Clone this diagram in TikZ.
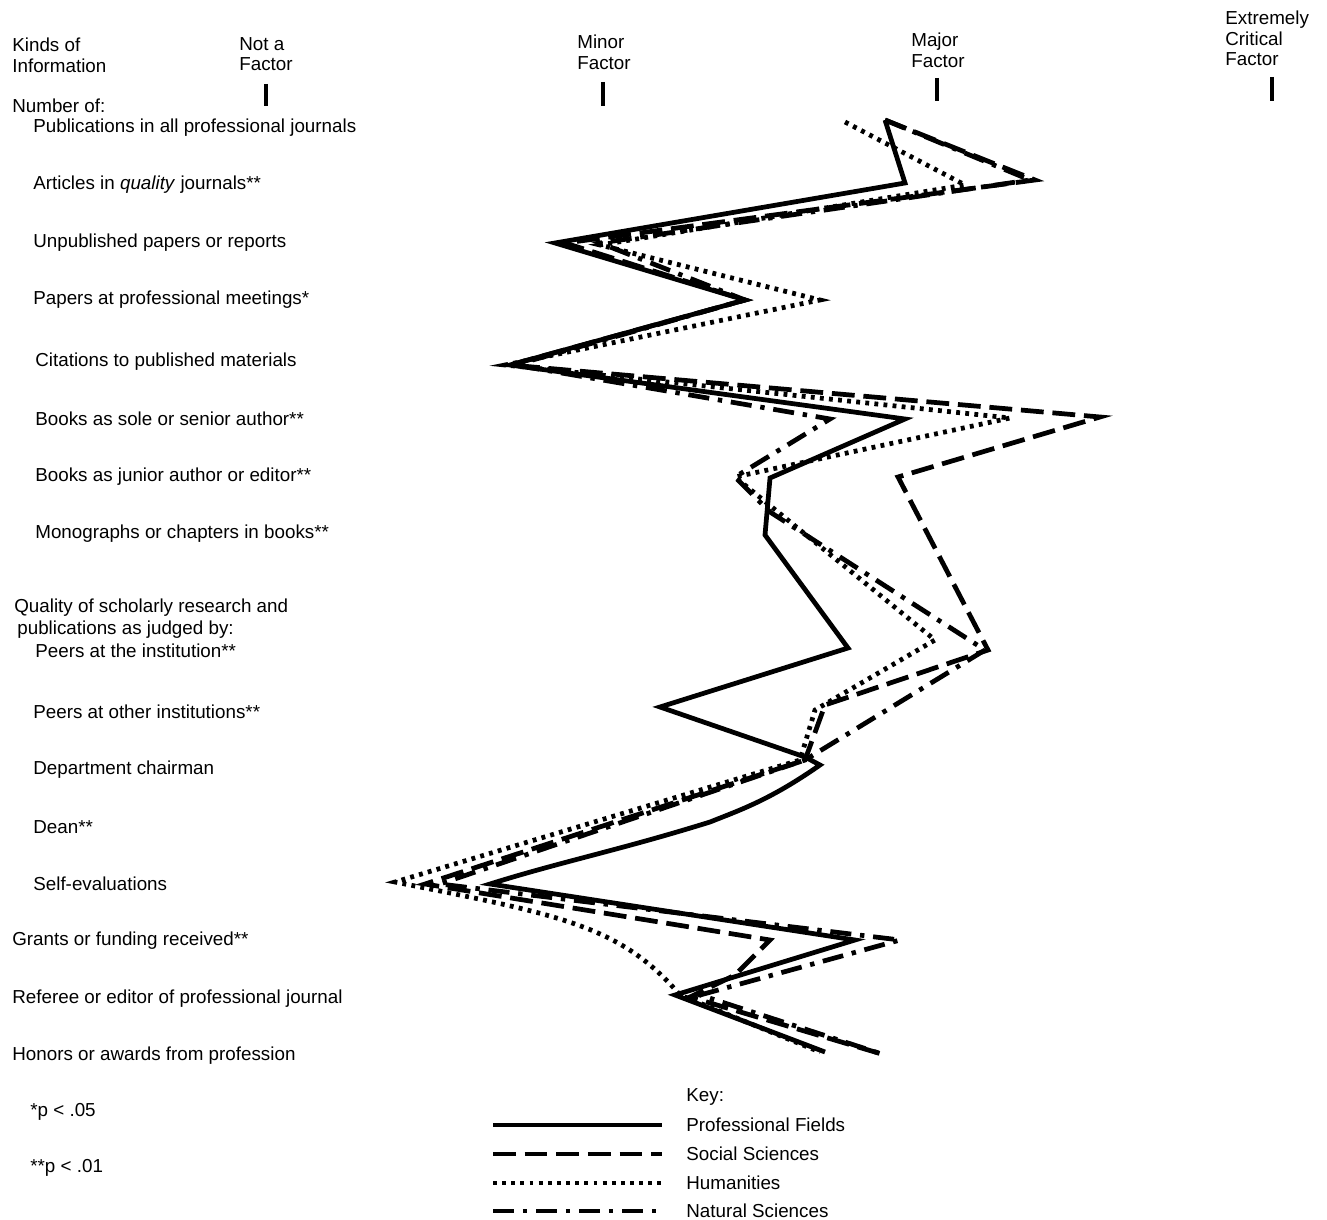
\documentclass[tikz,border=0pt]{standalone}
\usepackage{fontspec}
\setmainfont{Liberation Sans}
\usepackage{tikz}

\begin{document}
\begin{tikzpicture}[x=0.02cm, y=-0.02cm,
  lbl/.style={anchor=west, inner sep=0pt, font=\fontsize{10.7}{12}\selectfont},
  head/.style={anchor=north west, inner sep=0pt, align=left, font=\fontsize{10.7}{11.5}\selectfont},
  curve/.style={line width=2.7pt, line join=miter},
  prof/.style={curve},
  soc/.style={curve, dash pattern=on 13pt off 5pt},
  hum/.style={curve, dash pattern=on 2.2pt off 3pt},
  nat/.style={curve, dash pattern=on 12pt off 5pt on 2.5pt off 5pt}]
  \useasboundingbox (0,0) rectangle (1327,1219);

  % headings of the scale
  \node[head] (kinds) at (12,38) {Kinds of\\Information};
  \node[head] (notf) at (239,37) {Not a\\Factor};
  \node[head] (minf) at (577,35) {Minor\\Factor};
  \node[head] (majf) at (911,33) {Major\\Factor};
  \node[head] (extf) at (1225,11) {Extremely\\Critical\\Factor};
  \draw[line width=1.8pt] (266,84) -- (266,106);
  \draw[line width=1.8pt] (603,82) -- (603,106);
  \draw[line width=1.8pt] (937,78) -- (937,101);
  \draw[line width=1.8pt] (1272,77) -- (1272,101);

  % kinds of information
  \node[lbl] (numof) at (12,106) {Number of:};
  \node[lbl] (pubs) at (33,128) {Publications in all professional journals};
  \node[lbl] (arts) at (33,185) {Articles in \textit{quality} journals**};
  \node[lbl] (unpub) at (33,243) {Unpublished papers or reports};
  \node[lbl] (meet) at (33,300) {Papers at professional meetings*};
  \node[lbl] (cite) at (35,362) {Citations to published materials};
  \node[lbl] (bsole) at (35,419) {Books as sole or senior author**};
  \node[lbl] (bjun) at (35,477) {Books as junior author or editor**};
  \node[lbl] (mono) at (35,534) {Monographs or chapters in books**};
  \node[lbl] (qual) at (14,608) {Quality of scholarly research and};
  \node[lbl] (qual2) at (17,630) {publications as judged by:};
  \node[lbl] (peerin) at (35,651) {Peers at the institution**};
  \node[lbl] (peerout) at (33,712) {Peers at other institutions**};
  \node[lbl] (chair) at (33,770) {Department chairman};
  \node[lbl] (dean) at (33,827) {Dean**};
  \node[lbl] (self) at (33,884) {Self-evaluations};
  \node[lbl] (grant) at (12,941) {Grants or funding received**};
  \node[lbl] (refer) at (12,999) {Referee or editor of professional journal};
  \node[lbl] (honor) at (12,1056) {Honors or awards from profession};
  \node[lbl] (pfive) at (30,1112) {*p < .05};
  \node[lbl] (pone) at (30,1168) {**p < .01};

  % the four profiles
  \draw[nat] (885,120) -- (1030,180) -- (600,243) -- (745,300) -- (515,365) -- (830,419)
    -- (735,477) -- (770,512) -- (985,650) -- (805,760) -- (440,884) -- (900,940)
    -- (700,995) -- (885,1055);
  \draw[hum] (845,122) -- (965,185) -- (600,245) -- (820,300) -- (505,365) -- (1010,418)
    -- (735,477) -- (935,640) -- (815,710) -- (800,760) -- (395,882)
    .. controls (560,915) and (620,925) .. (680,995) -- (820,1052);
  \draw[soc] (885,120) -- (1035,180) -- (565,243) -- (745,300) -- (510,365) -- (1100,417)
    -- (898,477) -- (988,650) -- (825,705) -- (805,760) -- (425,884) -- (770,940)
    -- (735,975) -- (690,997) -- (885,1055);
  \draw[prof] (885,120) -- (905,183) -- (555,243) -- (745,300) -- (510,365) -- (905,419)
    -- (770,478) -- (765,535) -- (848,648) -- (660,707) -- (805,757) -- (820,765)
    .. controls (770,800) and (740,810) .. (710,822)
    .. controls (620,850) and (560,862) .. (490,884)
    -- (855,940) -- (675,995) -- (825,1052);

  % key
  \node[lbl] (key) at (686,1097) {Key:};
  \node[lbl] (kprof) at (686,1125) {Professional Fields};
  \node[lbl] (ksoc) at (686,1154) {Social Sciences};
  \node[lbl] (khum) at (686,1183) {Humanities};
  \node[lbl] (knat) at (686,1211) {Natural Sciences};
  \draw[prof] (493,1125) -- (662,1125);
  \draw[soc] (493,1154) -- (662,1154);
  \draw[hum] (493,1183) -- (662,1183);
  \draw[nat] (493,1211) -- (662,1211);
\end{tikzpicture}
\end{document}
